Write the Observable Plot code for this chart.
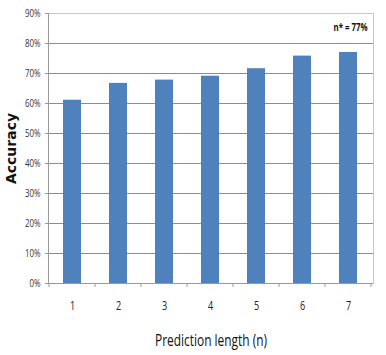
<!DOCTYPE html>
<html>
<head>
<meta charset="utf-8">
<script src="https://cdn.jsdelivr.net/npm/d3@7"></script>
<script src="https://cdn.jsdelivr.net/npm/@observablehq/plot@0.6"></script>
<style>
  html, body { margin: 0; padding: 0; background: #fff; }
</style>
</head>
<body>
<div id="chart"></div>
<script>
const categories = ["1", "2", "3", "4", "5", "6", "7"];
const accuracy = [0.611, 0.667, 0.678, 0.691, 0.716, 0.758, 0.770];
const yTicks = [0, 0.1, 0.2, 0.3, 0.4, 0.5, 0.6, 0.7, 0.8, 0.9];
const annotation = "n* = 77%";
const xLabel = "Prediction length (n)";
const yLabel = "Accuracy";

const data = categories.map((c, i) => ({ n: c, acc: accuracy[i] }));
const sans = "'Open Sans', 'DejaVu Sans', sans-serif";

// tick marks at band boundaries below the x axis
function boundaryTicks(index, scales, values, dimensions) {
  const x = scales.x;
  const bw = x.bandwidth ? x.bandwidth() : 0;
  const step = x.step ? x.step() : bw;
  const y0 = dimensions.height - dimensions.marginBottom;
  const g = d3.create("svg:g");
  const xs = categories.map(c => x(c) + bw / 2 - step / 2);
  xs.push(x(categories[categories.length - 1]) + bw / 2 + step / 2);
  for (const xv of xs) {
    g.append("line")
      .attr("x1", xv).attr("x2", xv)
      .attr("y1", y0).attr("y2", y0 + 4)
      .attr("stroke", "#999").attr("stroke-width", 1);
  }
  return g.node();
}

const chart = Plot.plot({
  width: 386,
  height: 355,
  marginLeft: 48,
  marginRight: 13,
  marginTop: 13,
  marginBottom: 72,
  style: { background: "#fff", overflow: "visible" },
  x: { domain: categories, paddingInner: 0.6, paddingOuter: 0.3, label: null },
  y: { domain: [0, 0.9], label: null },
  marks: [
    Plot.ruleY(yTicks.slice(1), { stroke: "#8c8c8c", strokeWidth: 1 }),
    Plot.frame({ anchor: "top", stroke: "#c8c8c8" }),
    Plot.frame({ anchor: "right", stroke: "#c8c8c8" }),
    Plot.barY(data, { x: "n", y: "acc", fill: "#4f81bd" }),
    Plot.ruleY([0], { stroke: "#999" }),
    Plot.frame({ anchor: "left", stroke: "#999" }),
    Plot.axisY({
      ticks: yTicks,
      tickFormat: d3.format(".0%"),
      tickSize: 3,
      tickPadding: 5,
      stroke: "#999",
      fontSize: 11,
      fontFamily: sans,
      fill: "#333",
      label: null
    }),
    Plot.axisX({
      tickSize: 0,
      tickPadding: 17,
      fontSize: 13,
      fontFamily: sans,
      fill: "#222",
      label: null
    }),
    boundaryTicks,
    Plot.text([yLabel], {
      frameAnchor: "left",
      dx: -37,
      rotate: -90,
      textAnchor: "middle",
      fontSize: 14,
      fontWeight: "bold",
      fontFamily: "'DejaVu Sans', sans-serif",
      fill: "#111"
    }),
    Plot.text([xLabel], {
      frameAnchor: "bottom",
      dy: 62,
      textAnchor: "middle",
      fontSize: 16,
      fontFamily: sans,
      fill: "#111"
    }),
    Plot.text([annotation], {
      frameAnchor: "top-right",
      dx: -6,
      dy: 10,
      textAnchor: "end",
      fontSize: 10,
      fontWeight: "bold",
      fontFamily: sans,
      fill: "#111"
    })
  ]
});

document.getElementById("chart").appendChild(chart);

// condense text to mimic the narrow Calibri-like face of the original
function squeeze(t, width) {
  t.setAttribute("textLength", width.toFixed(1));
  t.setAttribute("lengthAdjust", "spacingAndGlyphs");
}
chart.querySelectorAll('g[aria-label="y-axis tick label"] text').forEach(t => squeeze(t, t.getComputedTextLength() * 0.72));
chart.querySelectorAll('g[aria-label="x-axis tick label"] text').forEach(t => squeeze(t, t.getComputedTextLength() * 0.7));
chart.querySelectorAll("text").forEach(t => {
  if (t.textContent === xLabel) squeeze(t, 112);
  if (t.textContent === annotation) squeeze(t, 34);
});
</script>
</body>
</html>
